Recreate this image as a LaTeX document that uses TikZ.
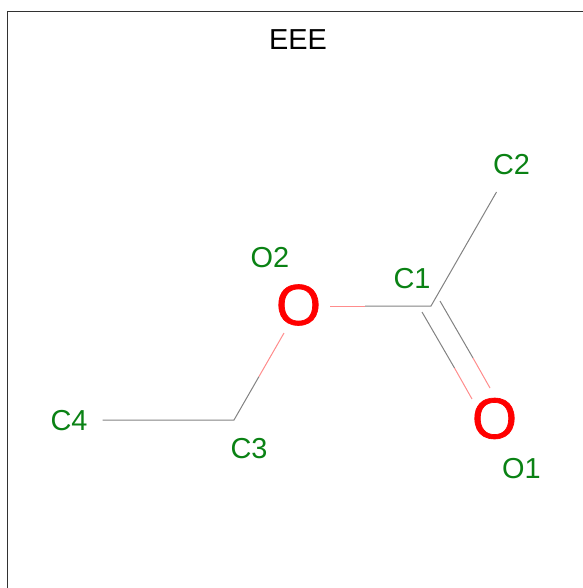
\documentclass[tikz,border=0pt]{standalone}
\usepackage{fontspec}
\setmainfont{Liberation Sans}
\newfontfamily\oxfont[FakeBold=1.2]{Liberation Sans}
\tikzset{
  atomlabel/.style={text=labelgreen,font=\fontsize{29}{32}\selectfont,inner sep=0pt,anchor=center},
  titlelabel/.style={text=black,font=\fontsize{29}{32}\selectfont,inner sep=0pt,anchor=center},
  oxygen/.style={text=red,font=\oxfont\fontsize{58}{64}\selectfont,inner sep=0pt,anchor=center},
  cbond/.style={draw=bondgray,line width=1bp},
  obond/.style={draw=bondpink,line width=1bp},
  frameline/.style={draw=framegray,line width=1bp}
}
\definecolor{labelgreen}{RGB}{10,130,20}
\definecolor{bondgray}{RGB}{130,130,130}
\definecolor{bondpink}{RGB}{255,140,140}
\definecolor{framegray}{RGB}{50,50,50}
\begin{document}
\begin{tikzpicture}[x=1bp,y=-1bp]
\useasboundingbox (0,0) rectangle (583,588);
\coordinate (fbl) at (7.5,588);
\coordinate (ftl) at (7.5,12);
\coordinate (ftr) at (583,12);
\draw[frameline] (fbl) -- (ftl) -- (ftr);
\node[titlelabel] (title) at (298,40) {EEE};
\node[oxygen] (oa) at (494.5,418.5) {O};
\node[oxygen] (ob) at (298.5,305) {O};
\node[atomlabel] (lc2) at (511.5,165) {C2};
\node[atomlabel] (lc1) at (412,279) {C1};
\node[atomlabel] (lo2) at (270,258) {O2};
\node[atomlabel] (lc3) at (249,449) {C3};
\node[atomlabel] (lc4) at (69,421) {C4};
\node[atomlabel] (lo1) at (521.5,469) {O1};
\coordinate (vc1) at (431,306);
\coordinate (vc2) at (496.5,192);
\coordinate (vc3) at (234,420);
\coordinate (vc4) at (102.5,420);
\coordinate (m32) at (259,376.5);
\coordinate (e32) at (284,333);
\coordinate (e21) at (330,306);
\coordinate (m21) at (365,306);
\coordinate (da1) at (422,312);
\coordinate (dam) at (454.5,368);
\coordinate (da2) at (472,399);
\coordinate (db1) at (440,301);
\coordinate (dbm) at (473,358);
\coordinate (db2) at (490,388);
\draw[cbond] (vc4) -- (vc3) -- (m32);
\draw[obond] (m32) -- (e32);
\draw[obond] (e21) -- (m21);
\draw[cbond] (m21) -- (vc1) -- (vc2);
\draw[cbond] (da1) -- (dam);
\draw[obond] (dam) -- (da2);
\draw[cbond] (db1) -- (dbm);
\draw[obond] (dbm) -- (db2);
\end{tikzpicture}
\end{document}
